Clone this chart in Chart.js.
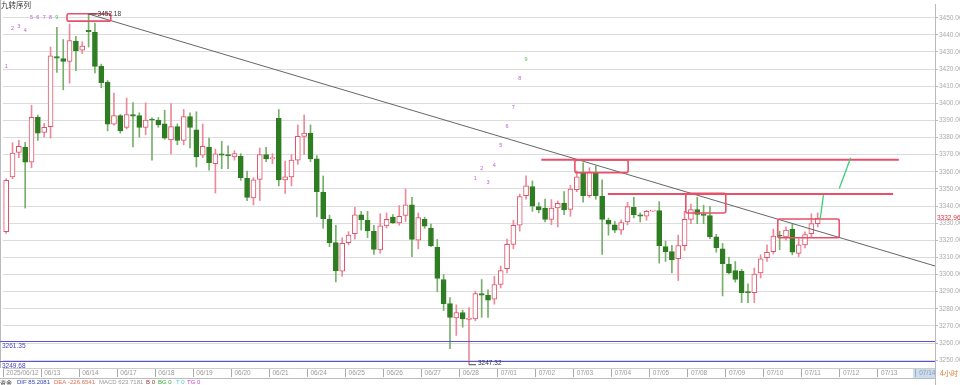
<!DOCTYPE html>
<html>
<head>
<meta charset="utf-8">
<script src="https://cdn.jsdelivr.net/npm/chart.js@4.4.1/dist/chart.umd.min.js"></script>
<style>
  html, body { margin: 0; padding: 0; background: #fff; overflow: hidden; }
  canvas { display: block; }
</style>
</head>
<body>
<canvas id="kline" width="960" height="385"></canvas>
<script>
// 4小时K线，每天6根
const dateLabels = ['2025/06/12','06/13','06/14','06/17','06/18','06/19','06/20','06/21','06/24','06/25','06/26','06/27','06/28',
  '07/01','07/02','07/03','07/04','07/05','07/08','07/09','07/10','07/11','07/12','07/13','07/14'];
const barsPerDay = 6;
const slotCount = 147;

const opens = [3325,3357,3371.4,3374.5,3365.7,3391.8,3383,3386.4,3427.3,3426.2,3424.5,3436.3,3431,3442.7,3441.5,3421.6,3412.4,3387.9,3392.8,3385.9,
  3393.5,3392.8,3386,3390.3,3390.2,3388,3378.7,3386.4,3378.4,3392.2,3384.5,3369.7,3374.5,3364.7,3370.5,3369.5,3368.7,3369.1,3356.2,3344.7,
  3355.6,3370.1,3367.6,3391.2,3355.3,3357,3366.8,3380.7,3382.6,3367.6,3348,3332.4,3318.6,3301.9,3318.6,3323.9,3334.9,3331.7,3325.3,3314.4,
  3328.4,3333.6,3330.1,3334.6,3340.7,3320.1,3332.2,3327.2,3315.9,3297.1,3283,3274.6,3277.8,3273.8,3274,3288.8,3287.9,3285.6,3294.2,3303.4,
  3317.6,3328.8,3346.1,3351.4,3339.7,3338.8,3332.2,3338.9,3341.8,3338,3349.5,3359.9,3346.1,3359.1,3345.7,3331.7,3329.1,3325.9,3330.7,3339.3,
  3334.9,3334.1,3337,3337.4,3316.3,3313.4,3309.2,3316.9,3332.2,3338,3334.7,3334.5,3322,3315,3306.1,3302.3,3301.9,3289.6,3289.4,3300.9,
  3309.8,3313.4,3322.7,3322,3326.5,3312.4,3317.3,3323.9,3329.7];
const highs = [3356,3377,3378.4,3377.2,3398.9,3393.1,3388.3,3432.9,3444.4,3437.3,3446.4,3439.2,3436,3452.18,3446.9,3422.9,3413.3,3406,3393.5,3403.1,
  3400.4,3394.5,3400.3,3391.6,3391.7,3396,3399.9,3388,3396.4,3394.5,3395.1,3387.9,3379.7,3373.3,3377.8,3375.2,3372.4,3370.6,3360.5,3356.6,
  3373.9,3374.3,3370.6,3396.4,3366.3,3370.1,3387.4,3393.1,3387.4,3369.5,3357.6,3334.7,3328.8,3321.5,3325,3339.3,3336.9,3336.9,3328.8,3335.5,
  3336,3335,3340.3,3349.9,3345.1,3336,3333.5,3329.5,3320.5,3300,3286.5,3282.3,3279.2,3280.7,3290.3,3297.1,3291,3299,3305,3320.7,
  3331.7,3347,3357.6,3354.7,3342,3344.1,3343.8,3343,3348.4,3352,3360.5,3365.3,3362.4,3363.4,3355.3,3333,3331,3332,3342.2,3345.1,
  3336,3337.5,3337.3,3342.6,3319.5,3317,3323,3336.9,3341.2,3345.1,3340.5,3339.9,3323.5,3318.2,3310,3307.6,3303,3294.5,3303.8,3311.5,
  3317.3,3326.5,3325.4,3327.8,3329.7,3321,3325,3335.5,3336];
const lows = [3324,3356,3368.2,3338.8,3362.4,3378.4,3380.3,3379.7,3418.1,3407.9,3411.8,3419.1,3429.1,3432.9,3417.7,3409.1,3383.9,3387.2,3382.6,3385,
  3374.5,3380.3,3381.6,3366.8,3386,3379,3370.5,3375.8,3375.8,3373.9,3362.8,3368.2,3360.9,3347.6,3361.8,3361.8,3366.8,3355,3343.2,3340.7,
  3343.2,3365.9,3364.7,3351.8,3347.4,3351.8,3364.3,3370.1,3366,3333.6,3327,3316.3,3295.7,3299,3317.3,3320.7,3325.9,3321.5,3311.8,3312.4,
  3327.2,3329.8,3328.8,3331,3310.5,3315,3327,3316.3,3290,3279,3256.7,3264.4,3269.2,3247.32,3273,3275,3275,3282.7,3292.2,3301,
  3315,3325.3,3344,3336.9,3336,3330.7,3329.1,3327.8,3335,3334,3348.4,3342.2,3345,3344,3311.8,3323,3324.5,3323.4,3329,3333,
  3330.7,3331.7,3336.9,3306.7,3307.6,3300.9,3296.5,3314,3329.7,3329.7,3329.7,3321,3313,3287.5,3300.3,3295.6,3283.6,3283.6,3283.6,3298,
  3307.6,3312,3314.5,3320,3311.5,3310.5,3315.5,3322,3327.8];
const closes = [3355,3371,3374.9,3365.7,3391.8,3382.6,3386,3427.7,3426.4,3424.5,3436.7,3430.6,3433.5,3441.8,3421.6,3412,3387.8,3392.8,3383.9,3393.5,
  3392.5,3385.9,3390.2,3390.1,3387.4,3379.7,3386.4,3378.4,3392.2,3385.9,3368.7,3374.9,3365.3,3370.5,3369.7,3369.3,3370.6,3356.6,3345.1,3355.3,
  3370.1,3367.6,3367.8,3355.3,3357,3366.8,3380.7,3382.6,3367.6,3348.4,3332.6,3318.6,3302.3,3318.2,3323,3334.9,3332,3325.5,3314.7,3328.4,
  3332.2,3330.1,3334,3340.7,3320.5,3333.2,3328.2,3316.9,3297.7,3283,3275,3277.8,3274,3274.4,3288.8,3288,3285,3294.2,3302.3,3317.6,
  3328.8,3345.5,3351.8,3339.9,3337.8,3332.2,3338.8,3341.6,3337.8,3349.9,3357,3346.1,3359.9,3346.1,3332.2,3329.4,3325.9,3330.3,3339.7,3334.9,
  3334.1,3336.9,3337.2,3316.9,3313.4,3308.6,3316.9,3332.2,3338,3335.1,3334.5,3322,3315.7,3306.3,3300.9,3297.1,3289.4,3289.3,3300.3,3309.2,
  3313,3322.4,3322.4,3325.9,3313,3317.3,3323.4,3329.7,3332.96];

const yMin = 3245.4;
const yMax = 3457.5;
const lastPrice = 3332.96;
const highMark = { index: 13, value: 3452.18 };
const lowMark = { index: 73, value: 3247.32 };

// 画线：趋势线、压力线、框、预期路径
const trendLine = [[13, 3452.18], [146.5, 3305]];
const resistanceLines = [[84.4, 140.8, 3367], [94.9, 139.9, 3347]];
const markBoxes = [[9.6, 16.5, 3452.3, 3448], [89.7, 98.1, 3367, 3359.5], [107.2, 113.5, 3347.4, 3335.9], [121.7, 131.4, 3332.4, 3321.5]];
const projectionLines = [[[128.4, 3332.6], [128.9, 3346.4]], [[131.4, 3350.3], [133.2, 3368.2]]];
const supportLevels = [3261.35, 3249.68];

// 九转序列
const tdUpStart1 = 0;
const tdUpValues1 = [3421.8, 3443.7, 3444.8, 3442.5, 3450, 3450, 3450, 3450, 3450];
const tdUpStart2 = 74;
const tdUpValues2 = [3356.1, 3361.8, 3353.7, 3363.5, 3375.1, 3386.6, 3397.6, 3414.3, 3425.8];

const indicatorTexts = [
  ['资金', '#333'], ['DIF 85.2081', '#3344bb'], ['DEA -226.6541', '#e07050'], ['MACD 623.7181', '#999'],
  ['B 0', '#993333'], ['BG 0', '#33aa33'], ['T 0', '#44cccc'], ['TG 0', '#cc44cc']
];
const indicatorX = [0, 17, 54, 99, 146, 158, 176, 187];

const UP = '#e2526a', UP_WICK = '#ec8a9a', DOWN = '#2f7d22', DOWN_WICK = '#77b06a';

const categories = [];
for (let i = 0; i < slotCount; i++) {
  categories.push(i % barsPerDay === 0 ? (dateLabels[i / barsPerDay] || '') : '');
}
const isUp = closes.map((c, i) => c >= opens[i]);
const bodies = opens.map((o, i) => [Math.min(o, closes[i]), Math.max(o, closes[i])]);
const wicks = lows.map((l, i) => [l, highs[i]]);

const FONT = '"Liberation Sans", Arial, sans-serif';
const CJK = '"Noto Sans CJK SC", sans-serif';

function txt(ctx, s, x, y, color, size, align, base, fam) {
  ctx.font = size + 'px ' + (fam || FONT);
  ctx.fillStyle = color;
  ctx.textAlign = align || 'left';
  ctx.textBaseline = base || 'middle';
  ctx.fillText(s, x, y);
}

function roundRect(ctx, x, y, w, h, r) {
  ctx.beginPath();
  ctx.moveTo(x + r, y);
  ctx.arcTo(x + w, y, x + w, y + h, r);
  ctx.arcTo(x + w, y + h, x, y + h, r);
  ctx.arcTo(x, y + h, x, y, r);
  ctx.arcTo(x, y, x + w, y, r);
  ctx.closePath();
}

const overlay = {
  id: 'overlay',
  beforeDraw(chart) {
    const { ctx, width, height } = chart;
    const a = chart.chartArea, xs = chart.scales.x;
    ctx.save();
    ctx.fillStyle = '#fff';
    ctx.fillRect(0, 0, width, height);
    const hx = xs.getPixelForValue(144) - 6;
    ctx.fillStyle = '#c9dcf2';
    ctx.fillRect(hx, a.bottom + 1, a.right - hx, 9);
    ctx.restore();
  },
  afterDatasetsDraw(chart) {
    const { ctx, width, height } = chart;
    const a = chart.chartArea, xs = chart.scales.x, ys = chart.scales.y;
    const px = v => xs.getPixelForValue(v);
    const py = v => ys.getPixelForValue(v);
    ctx.save();

    // 边框
    ctx.strokeStyle = '#bbb';
    ctx.lineWidth = 1;
    ctx.beginPath();
    ctx.moveTo(0.5, 0); ctx.lineTo(0.5, a.bottom);
    ctx.moveTo(a.right + 0.5, a.bottom); ctx.lineTo(a.right + 0.5, height);
    ctx.moveTo(0, a.bottom + 10.5); ctx.lineTo(a.right, a.bottom + 10.5);
    ctx.stroke();

    // 支撑线
    ctx.strokeStyle = '#5a52dc';
    ctx.lineWidth = 1.2;
    supportLevels.forEach(v => {
      const y = Math.round(py(v)) + 0.5;
      ctx.beginPath(); ctx.moveTo(0, y); ctx.lineTo(a.right, y); ctx.stroke();
      txt(ctx, v.toFixed(2), 2, y + 1, '#4a44c0', 6.5, 'left', 'top');
    });

    // 趋势线
    ctx.strokeStyle = '#555';
    ctx.lineWidth = 0.9;
    ctx.beginPath();
    ctx.moveTo(px(trendLine[0][0]), py(trendLine[0][1]));
    ctx.lineTo(px(trendLine[1][0]), py(trendLine[1][1]));
    ctx.stroke();

    // 压力线
    ctx.strokeStyle = '#e8506a';
    ctx.lineWidth = 2;
    resistanceLines.forEach(([i0, i1, v]) => {
      const y = py(v);
      ctx.beginPath(); ctx.moveTo(px(i0), y); ctx.lineTo(px(i1), y); ctx.stroke();
    });

    // 框
    ctx.lineWidth = 1.6;
    markBoxes.forEach(([i0, i1, v0, v1]) => {
      const x0 = px(i0), x1 = px(i1), y0 = py(v0), y1 = py(v1);
      roundRect(ctx, x0, y0, x1 - x0, y1 - y0, 2);
      ctx.stroke();
    });

    // 预期路径
    ctx.strokeStyle = '#3ccf7a';
    ctx.lineWidth = 1.3;
    projectionLines.forEach(([p0, p1]) => {
      ctx.beginPath(); ctx.moveTo(px(p0[0]), py(p0[1])); ctx.lineTo(px(p1[0]), py(p1[1])); ctx.stroke();
    });

    // 最高/最低标注
    const hx = px(highMark.index), hy = py(highMark.value);
    ctx.strokeStyle = '#444'; ctx.lineWidth = 1;
    ctx.beginPath(); ctx.moveTo(hx, hy); ctx.lineTo(hx + 8, hy); ctx.stroke();
    txt(ctx, highMark.value.toFixed(2), hx + 9, hy + 0.5, '#333', 6.5);
    const lx = px(lowMark.index), ly = py(lowMark.value);
    ctx.beginPath(); ctx.moveTo(lx, ly); ctx.lineTo(lx + 7, ly); ctx.stroke();
    txt(ctx, lowMark.value.toFixed(2), lx + 9, ly - 2, '#333366', 6.5);

    // 九转序列数字
    [[tdUpStart1, tdUpValues1], [tdUpStart2, tdUpValues2]].forEach(([start, vals]) => {
      vals.forEach((v, k) => {
        txt(ctx, String(k + 1), px(start + k), py(v), k === 8 ? '#4cc24c' : '#c05ad8', 5.5, 'center');
      });
    });

    // 标题
    txt(ctx, '九转序列', 1, 5, '#333', 7.5, 'left', 'middle', CJK);

    // 现价
    txt(ctx, lastPrice.toFixed(2), a.right + 2, py(lastPrice), '#e03040', 6.5);

    // 周期
    txt(ctx, '4小时', a.right + 5, a.bottom + 5.5, '#e0803a', 7, 'left', 'middle', CJK);

    // 指标行
    indicatorTexts.forEach(([s, c], k) => {
      txt(ctx, s, indicatorX[k], height + 0.5, c, 6, 'left', 'bottom', k === 0 ? CJK : FONT);
    });

    ctx.restore();
  }
};

new Chart(document.getElementById('kline'), {
  type: 'bar',
  data: {
    labels: categories,
    datasets: [
      {
        label: 'body',
        data: bodies,
        backgroundColor: isUp.map(u => u ? '#fff' : DOWN),
        borderColor: isUp.map(u => u ? UP : DOWN),
        borderWidth: 1,
        borderSkipped: false,
        barThickness: 5,
        minBarLength: 1.2,
        grouped: false,
        order: 0
      },
      {
        label: 'wick',
        data: wicks,
        backgroundColor: isUp.map(u => u ? UP_WICK : DOWN_WICK),
        borderWidth: 0,
        barThickness: 1,
        grouped: false,
        order: 1
      }
    ]
  },
  options: {
    responsive: false,
    devicePixelRatio: 1,
    animation: false,
    layout: { padding: { left: 3, right: 0, top: 0, bottom: 0 } },
    plugins: { legend: { display: false }, tooltip: { enabled: false } },
    scales: {
      x: {
        type: 'category',
        offset: true,
        grid: {
          offset: true,
          drawOnChartArea: false,
          tickLength: 9,
          color: c => categories[c.index] ? '#aaa' : 'rgba(0,0,0,0)',
          tickColor: c => categories[c.index] ? '#aaa' : 'rgba(0,0,0,0)'
        },
        border: { display: true, color: '#ccc' },
        ticks: {
          autoSkip: false,
          maxRotation: 0,
          minRotation: 0,
          align: 'start',
          padding: -8,
          color: '#999',
          font: { size: 6.5, family: FONT },
          callback: (v, i) => categories[i]
        },
        afterFit: s => { s.height = 17; }
      },
      y: {
        position: 'right',
        min: yMin,
        max: yMax,
        grid: { color: '#dcdcdc', lineWidth: 1, tickLength: 3, tickColor: '#bbb' },
        border: { display: true, color: '#bbb' },
        ticks: {
          stepSize: 10,
          includeBounds: false,
          padding: 1,
          color: '#aaa',
          font: { size: 6.5, family: FONT },
          callback: v => v.toFixed(2)
        },
        afterFit: s => { s.width = 25; }
      }
    }
  },
  plugins: [overlay]
});
</script>
</body>
</html>
